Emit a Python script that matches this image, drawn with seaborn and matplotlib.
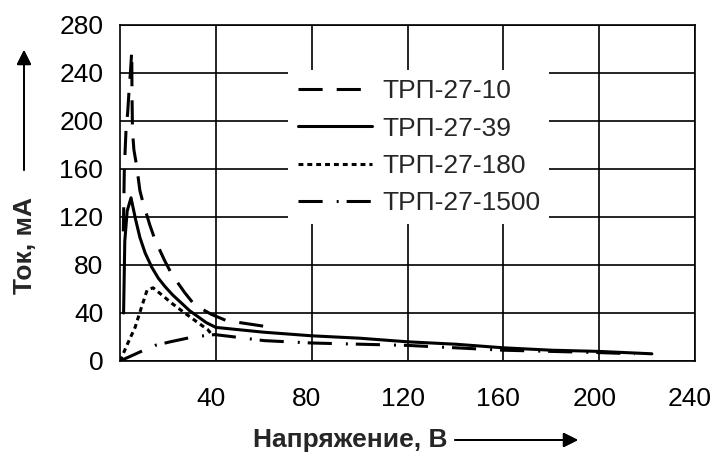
import pandas as pd
import seaborn as sns
import matplotlib.pyplot as plt
from matplotlib.transforms import ScaledTranslation

# ТРП-27-10
x_10 = [1.4, 1.8, 2.5, 3.2, 3.8, 4.4, 4.9, 5.0, 5.2, 5.8, 7.0, 8.3, 9.6, 12.5, 14.6, 18.8, 21.7, 27.0, 31.0, 38.0, 44.0, 50.0, 60.0]
y_10 = [108, 159, 192, 207, 226, 242, 258, 225, 192, 176, 162, 142, 132, 113, 101, 83, 72, 57, 47, 39, 34, 32, 29]
# ТРП-27-39
x_39 = [1.5, 2.0, 3.0, 4.6, 6.5, 8.3, 10.5, 13.3, 16, 18.8, 22, 25.8, 29, 32.5, 36, 40, 60, 80, 100, 120, 140, 160, 180, 200, 222]
y_39 = [40, 100, 125, 136, 118, 103, 90, 78, 69, 62, 55, 48, 42, 37, 32, 28, 24, 21, 19, 16, 14, 11, 9, 8, 6]
# ТРП-27-180
x_180 = [0, 3.3, 6.3, 9.0, 11.3, 13.8, 17.5, 21.7, 27.0, 32.5, 36.7, 38.3]
y_180 = [0, 15, 28, 45, 59, 61, 55, 48, 40, 32, 26, 22]
# ТРП-27-1500
x_1500 = [0, 8.3, 14.6, 21, 30.4, 39.6, 48, 60, 80, 100, 120, 140, 160, 180, 200, 215]
y_1500 = [0, 7.5, 13, 16, 20, 22, 20, 17, 15, 14, 13, 11, 9, 8, 7, 6]

names = ["ТРП-27-10", "ТРП-27-39", "ТРП-27-180", "ТРП-27-1500"]
xs = [x_10, x_39, x_180, x_1500]
ys = [y_10, y_39, y_180, y_1500]

x_ticks = [40, 80, 120, 160, 200, 240]
y_ticks = [0, 40, 80, 120, 160, 200, 240, 280]

df = pd.concat(
    [pd.DataFrame({"U": x, "I": y, "series": n}) for n, x, y in zip(names, xs, ys)],
    ignore_index=True,
)

sns.set_style("white")
plt.rcParams['font.family'] = ['Liberation Sans', 'DejaVu Sans']

fig = plt.figure(figsize=(7.14, 4.58), dpi=100)
ax = fig.add_axes([120 / 714, 1 - 361 / 458, 575 / 714, 336 / 458])

dashes = {
    "ТРП-27-10": (7.9, 4.6),
    "ТРП-27-39": "",
    "ТРП-27-180": (1.6, 1.3),
    "ТРП-27-1500": (7.9, 4.6, 0.65, 2.6),
}
sns.lineplot(
    data=df, x="U", y="I", style="series", style_order=names,
    dashes=dashes, color="black", linewidth=2.2,
    estimator=None, sort=False, ax=ax,
)

ax.set_xlim(0, 240)
ax.set_ylim(0, 280)
ax.set_xticks(x_ticks)
ax.set_yticks(y_ticks)
ax.tick_params(axis="both", length=0, labelsize=19, colors="black")
ax.tick_params(axis="x", pad=19)
ax.tick_params(axis="y", pad=12)
for lbl in ax.get_xticklabels():
    lbl.set_transform(lbl.get_transform() + ScaledTranslation(-5 / 100, 0, fig.dpi_scale_trans))
ax.grid(True, color="black", linewidth=1.2)
for s in ax.spines.values():
    s.set_color("black")
    s.set_linewidth(1.2)
ax.set_xlabel("")
ax.set_ylabel("")

handles, labels = ax.get_legend_handles_labels()
leg = ax.legend(
    handles, labels, loc="upper left", bbox_to_anchor=(0.27, 0.905),
    fontsize=19, frameon=True, facecolor="white", edgecolor="none",
    framealpha=1, handlelength=2.8, handletextpad=0.4, labelspacing=0.5,
    borderpad=0.35, fancybox=False,
)

# axis titles with arrows
fig.text(350 / 714, 1 - 440 / 458, "Напряжение, В", ha="center", va="center",
         fontsize=19, fontweight="bold")
fig.text(25 / 714, 1 - 246 / 458, "Ток, мА", ha="center", va="center",
         fontsize=19, fontweight="bold", rotation=90)
arrow = dict(arrowstyle="-|>", color="black", lw=1.3, mutation_scale=22,
             shrinkA=0, shrinkB=0)
fig.add_artist(plt.annotate("", xy=(578 / 714, 1 - 440 / 458), xytext=(455 / 714, 1 - 440 / 458),
                            xycoords="figure fraction", arrowprops=arrow))
fig.add_artist(plt.annotate("", xy=(24 / 714, 1 - 50 / 458), xytext=(24 / 714, 1 - 170 / 458),
                            xycoords="figure fraction", arrowprops=arrow))

fig.savefig("out.png", dpi=100)
